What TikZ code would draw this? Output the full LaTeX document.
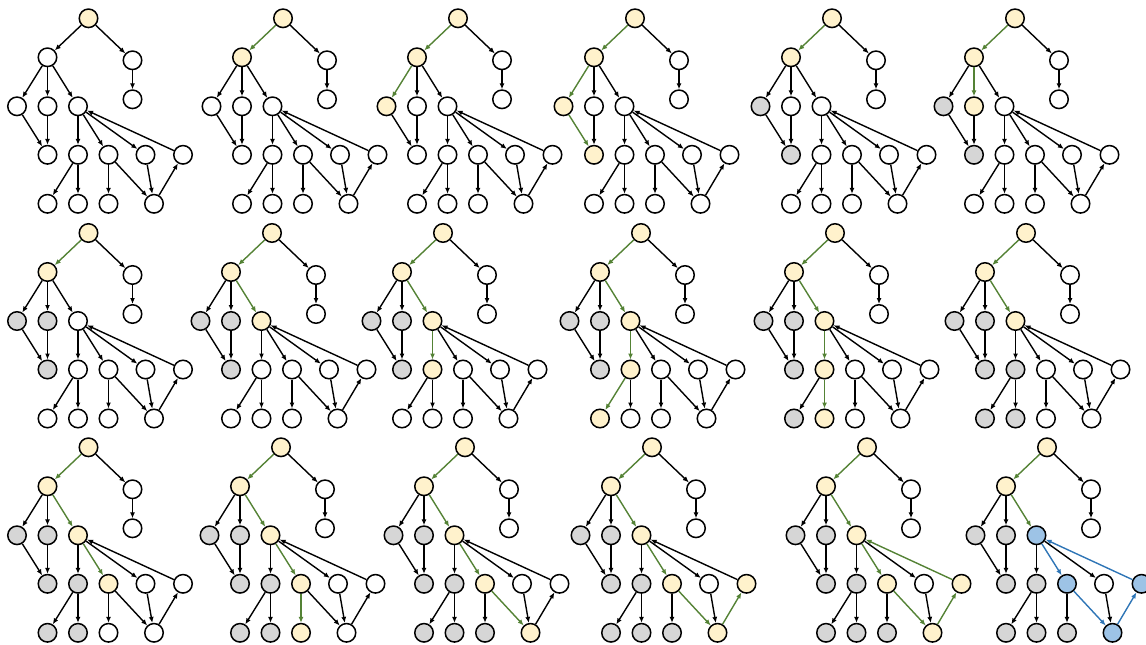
\documentclass[tikz,border=0pt]{standalone}
\usepackage{xcolor}
\usepackage{tikz}
\usetikzlibrary{positioning, arrows.meta}

\definecolor{visityellow}{HTML}{FFF2CC}
\definecolor{donegray}{HTML}{D6D6D6}
\definecolor{cycblue}{HTML}{9DC3E6}
\definecolor{treegreen}{HTML}{548235}
\definecolor{cycedge}{HTML}{2E75B6}

\newcommand{\dfsgraph}[1]{%
  \node[vtx, s-r/.try] (#1r) at (0,0) {};
  \node[vtx, s-a/.try, below left=39pt and 41pt of #1r] (#1a) {};
  \node[vtx, s-b/.try, below right=42pt and 44pt of #1r] (#1b) {};
  \node[vtx, s-b1/.try, below=39pt of #1b] (#1b1) {};
  \node[vtx, s-c2/.try, below=49pt of #1a] (#1c2) {};
  \node[vtx, s-c1/.try, left=30.5pt of #1c2] (#1c1) {};
  \node[vtx, s-c3/.try, right=30.5pt of #1c2] (#1c3) {};
  \node[vtx, s-d1/.try, below=48.5pt of #1c2] (#1d1) {};
  \node[vtx, s-d2/.try, below=48.5pt of #1c3] (#1d2) {};
  \node[vtx, s-d3/.try, right=30.5pt of #1d2] (#1d3) {};
  \node[vtx, s-d4/.try, right=37pt of #1d3] (#1d4) {};
  \node[vtx, s-d5/.try, right=37.5pt of #1d4] (#1d5) {};
  \node[vtx, s-e1/.try, below=49pt of #1d1] (#1e1) {};
  \node[vtx, s-e2/.try, below=49pt of #1d2] (#1e2) {};
  \node[vtx, s-e3/.try, below=49pt of #1d3] (#1e3) {};
  \node[vtx, s-e4/.try, right=45.5pt of #1e3] (#1e4) {};
  \draw[arr, s-ra/.try] (#1r) -- (#1a);
  \draw[arr, s-rb/.try] (#1r) -- (#1b);
  \draw[arr, s-bb1/.try] (#1b) -- (#1b1);
  \draw[arr, s-ac1/.try] (#1a) -- (#1c1);
  \draw[arr, s-ac2/.try] (#1a) -- (#1c2);
  \draw[arr, s-ac3/.try] (#1a) -- (#1c3);
  \draw[arr, s-c1d1/.try] (#1c1) -- (#1d1);
  \draw[arr, s-c2d1/.try] (#1c2) -- (#1d1);
  \draw[arr, s-c3d2/.try] (#1c3) -- (#1d2);
  \draw[arr, s-c3d3/.try] (#1c3) -- (#1d3);
  \draw[arr, s-c3d4/.try] (#1c3) -- (#1d4);
  \draw[arr, s-d5c3/.try] (#1d5) -- (#1c3);
  \draw[arr, s-d2e1/.try] (#1d2) -- (#1e1);
  \draw[arr, s-d2e2/.try] (#1d2) -- (#1e2);
  \draw[arr, s-d3e3/.try] (#1d3) -- (#1e3);
  \draw[arr, s-d3e4/.try] (#1d3) -- (#1e4);
  \draw[arr, s-d4e4/.try] (#1d4) -- (#1e4);
  \draw[arr, s-e4d5/.try] (#1e4) -- (#1d5);
}

\begin{document}
\begin{tikzpicture}[
  x=1pt, y=-1pt, on grid,
  vtx/.style={circle, draw, line width=1.5pt, fill=white, minimum size=18.5pt, inner sep=0pt},
  cur/.style={fill=visityellow},
  done/.style={fill=donegray},
  cyc/.style={fill=cycblue},
  arr/.style={-{Latex[length=6pt, width=5pt]}, line width=1.4pt},
  tree/.style={draw=treegreen},
  back/.style={draw=cycedge},
  yel/.style={s-#1/.style=cur},
  gry/.style={s-#1/.style=done},
  blu/.style={s-#1/.style=cyc},
  grn/.style={s-#1/.style=tree},
  bed/.style={s-#1/.style=back}
]
\useasboundingbox (0,0) rectangle (1146,645);

\begin{scope}[shift={(88.5,18.3)}, yel/.list={r}]
  \dfsgraph{p1}
\end{scope}
\begin{scope}[shift={(283,18.3)}, yel/.list={r,a}, grn/.list={ra}]
  \dfsgraph{p2}
\end{scope}
\begin{scope}[shift={(458,18.3)}, yel/.list={r,a,c1}, grn/.list={ra,ac1}]
  \dfsgraph{p3}
\end{scope}
\begin{scope}[shift={(635,18.3)}, yel/.list={r,a,c1,d1}, grn/.list={ra,ac1,c1d1}]
  \dfsgraph{p4}
\end{scope}
\begin{scope}[shift={(832,18.3)}, yel/.list={r,a}, gry/.list={c1,d1}, grn/.list={ra}]
  \dfsgraph{p5}
\end{scope}
\begin{scope}[shift={(1015,18.3)}, yel/.list={r,a,c2}, gry/.list={c1,d1}, grn/.list={ra,ac2}]
  \dfsgraph{p6}
\end{scope}

\begin{scope}[shift={(88.5,233)}, yel/.list={r,a}, gry/.list={c1,c2,d1}, grn/.list={ra}]
  \dfsgraph{p7}
\end{scope}
\begin{scope}[shift={(272,233)}, yel/.list={r,a,c3}, gry/.list={c1,c2,d1}, grn/.list={ra,ac3}]
  \dfsgraph{p8}
\end{scope}
\begin{scope}[shift={(443,233)}, yel/.list={r,a,c3,d2}, gry/.list={c1,c2,d1}, grn/.list={ra,ac3,c3d2}]
  \dfsgraph{p9}
\end{scope}
\begin{scope}[shift={(641,233)}, yel/.list={r,a,c3,d2,e1}, gry/.list={c1,c2,d1}, grn/.list={ra,ac3,c3d2,d2e1}]
  \dfsgraph{p10}
\end{scope}
\begin{scope}[shift={(835,233)}, yel/.list={r,a,c3,d2,e2}, gry/.list={c1,c2,d1,e1}, grn/.list={ra,ac3,c3d2,d2e2}]
  \dfsgraph{p11}
\end{scope}
\begin{scope}[shift={(1026,233)}, yel/.list={r,a,c3}, gry/.list={c1,c2,d1,d2,e1,e2}, grn/.list={ra,ac3}]
  \dfsgraph{p12}
\end{scope}

\begin{scope}[shift={(88.5,447.3)}, yel/.list={r,a,c3,d3}, gry/.list={c1,c2,d1,d2,e1,e2}, grn/.list={ra,ac3,c3d3}]
  \dfsgraph{p13}
\end{scope}
\begin{scope}[shift={(281,447.3)}, yel/.list={r,a,c3,d3,e3}, gry/.list={c1,c2,d1,d2,e1,e2}, grn/.list={ra,ac3,c3d3,d3e3}]
  \dfsgraph{p14}
\end{scope}
\begin{scope}[shift={(465,447.3)}, yel/.list={r,a,c3,d3,e4}, gry/.list={c1,c2,d1,d2,e1,e2,e3}, grn/.list={ra,ac3,c3d3,d3e4}]
  \dfsgraph{p15}
\end{scope}
\begin{scope}[shift={(652,447.3)}, yel/.list={r,a,c3,d3,e4,d5}, gry/.list={c1,c2,d1,d2,e1,e2,e3}, grn/.list={ra,ac3,c3d3,d3e4,e4d5}]
  \dfsgraph{p16}
\end{scope}
\begin{scope}[shift={(867,447.3)}, yel/.list={r,a,c3,d3,e4,d5}, gry/.list={c1,c2,d1,d2,e1,e2,e3}, grn/.list={ra,ac3,c3d3,d3e4,e4d5,d5c3}]
  \dfsgraph{p17}
\end{scope}
\begin{scope}[shift={(1047,447.3)}, yel/.list={r,a}, blu/.list={c3,d3,e4,d5}, gry/.list={c1,c2,d1,d2,e1,e2,e3}, grn/.list={ra,ac3}, bed/.list={c3d3,d3e4,e4d5,d5c3}]
  \dfsgraph{p18}
\end{scope}
\end{tikzpicture}
\end{document}
